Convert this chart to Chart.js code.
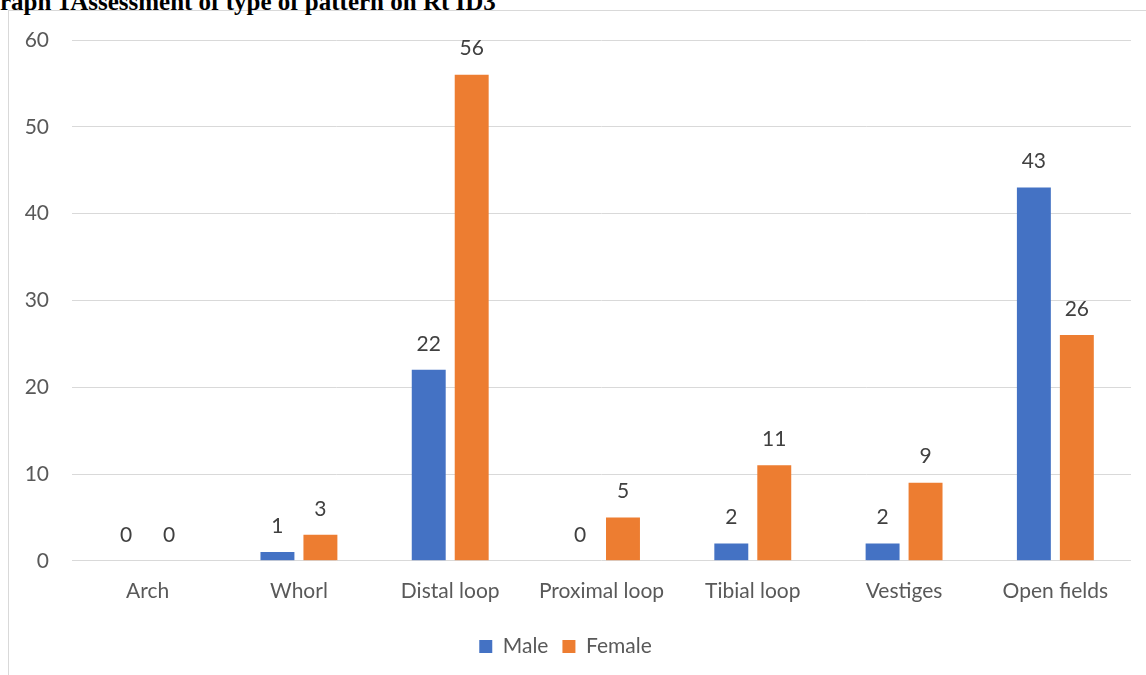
<!DOCTYPE html>
<html lang="en">
<head>
    <meta charset="UTF-8">
    <title>Assessment of type of pattern on Rt ID3</title>
    <script src="https://cdn.jsdelivr.net/npm/chart.js@4.4.3/dist/chart.umd.min.js"></script>
    <style>
        html, body { margin: 0; padding: 0; background: #fff; overflow: hidden; }
        #wrap { position: relative; width: 1146px; height: 675px; }
        #title {
            position: absolute; left: 0; top: -11px;
            font: bold 25px "Liberation Serif", "Times New Roman", serif;
            line-height: 25px; white-space: nowrap; color: #000;
        }
        #frame {
            position: absolute; left: 8px; top: 10px; width: 1150px; height: 680px;
            border-left: 1px solid #d9d9d9; border-top: 1px solid #d9d9d9;
        }
        #chart { position: absolute; left: 0; top: 0; }
    </style>
</head>
<body>
    <div id="wrap">
        <div id="frame"></div>
        <div id="title">raph 1Assessment of type of pattern on Rt ID3</div>
        <canvas id="chart" width="1146" height="675"></canvas>
    </div>

    <script>
        // Datos
        const categories = ['Arch', 'Whorl', 'Distal loop', 'Proximal loop', 'Tibial loop', 'Vestiges', 'Open fields'];
        const maleValues = [0, 1, 22, 0, 2, 2, 43];
        const femaleValues = [0, 3, 56, 5, 11, 9, 26];
        const yTicks = [0, 10, 20, 30, 40, 50, 60];

        const font = "Lato, 'Open Sans', sans-serif";

        // etiquetas sobre las barras
        const barLabels = {
            id: 'barLabels',
            afterDatasetsDraw(chart) {
                const ctx = chart.ctx;
                ctx.save();
                ctx.font = '21px ' + font;
                ctx.fillStyle = '#404040';
                ctx.textAlign = 'center';
                ctx.textBaseline = 'middle';
                chart.data.datasets.forEach((ds, i) => {
                    chart.getDatasetMeta(i).data.forEach((bar, j) => {
                        ctx.fillText(ds.data[j], bar.x, bar.y - 26);
                    });
                });
                ctx.restore();
            }
        };

        new Chart(document.getElementById('chart'), {
            type: 'bar',
            data: {
                labels: categories,
                datasets: [{
                    label: 'Male',
                    data: maleValues,
                    backgroundColor: '#4472C4',
                    categoryPercentage: 0.568,
                    barPercentage: 0.79
                }, {
                    label: 'Female',
                    data: femaleValues,
                    backgroundColor: '#ED7D31',
                    categoryPercentage: 0.568,
                    barPercentage: 0.79
                }]
            },
            options: {
                responsive: false,
                animation: false,
                layout: { padding: { top: 40, right: 15, bottom: 8, left: 0 } },
                scales: {
                    x: {
                        grid: { display: false, drawTicks: false },
                        border: { display: false },
                        ticks: { color: '#595959', font: { family: font, size: 21 }, padding: 18 }
                    },
                    y: {
                        min: 0,
                        max: 60,
                        afterBuildTicks(scale) { scale.ticks = yTicks.map(v => ({ value: v })); },
                        grid: { color: '#d9d9d9', lineWidth: 1, drawTicks: false },
                        border: { display: false },
                        ticks: { color: '#595959', font: { family: font, size: 21 }, padding: 23 },
                        afterFit(scale) { scale.width = 72; }
                    }
                },
                plugins: {
                    legend: {
                        position: 'bottom',
                        labels: {
                            color: '#595959',
                            font: { family: font, size: 21 },
                            boxWidth: 13,
                            boxHeight: 13,
                            padding: 14
                        }
                    },
                    tooltip: { enabled: false }
                }
            },
            plugins: [barLabels]
        });
    </script>
</body>
</html>
